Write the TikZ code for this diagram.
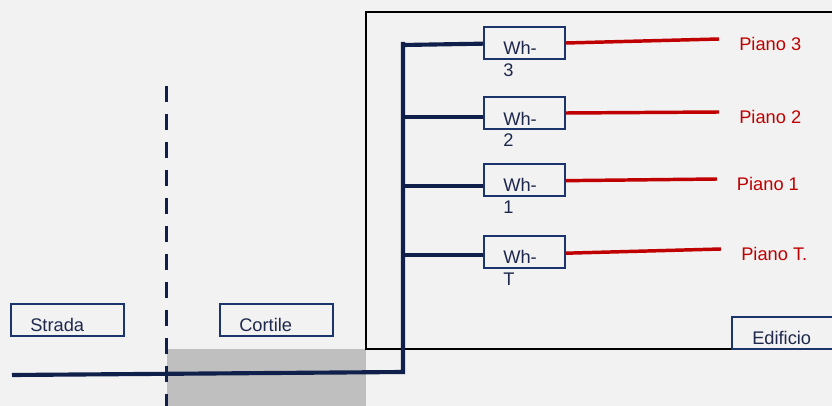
\documentclass[tikz,border=0pt]{standalone}
\usepackage{fontspec}
\setmainfont{Liberation Sans}
\definecolor{navy}{RGB}{17,32,74}
\definecolor{boxblue}{RGB}{28,52,108}
\definecolor{txtblue}{RGB}{30,40,76}
\definecolor{feedred}{RGB}{192,0,0}
\definecolor{yardgrey}{RGB}{191,191,191}
\definecolor{bggrey}{RGB}{242,242,242}

\begin{document}
\begin{tikzpicture}[x=0.75pt,y=0.75pt,yscale=-1,xscale=1,
  whbox/.style={draw=boxblue, line width=1.5pt, minimum width=60.75pt, minimum height=24pt, inner sep=0pt},
  areabox/.style={draw=boxblue, line width=1.5pt, minimum height=24pt, inner sep=0pt},
  txt/.style={anchor=base west, inner sep=0pt, font=\fontsize{13.7}{16.5}\selectfont},
  whtxt/.style={txt, text=txtblue, align=left},
  pianotxt/.style={txt, text=feedred},
  cable/.style={draw=navy, line width=3.1pt},
  feed/.style={draw=feedred, line width=2.6pt},
  building/.style={draw=black, line width=2pt},
  fence/.style={draw=navy, line width=2.6pt, dash pattern=on 12pt off 9pt}]
\useasboundingbox (0,0) rectangle (832,406);

%Background and courtyard
\fill[bggrey] (0,0) rectangle (832,406);
\fill[yardgrey] (167,349) rectangle (366,406);

%Building outline
\draw[building] (840,12) -- (366,12) -- (366,349) -- (840,349);

%Boundary street / courtyard
\draw[fence] (166.5,86) -- (166.5,406);

%Meter boxes
\node[whbox] (wh3) at (524.5,43) {};
\node[whbox] (wh2) at (524.5,113) {};
\node[whbox] (wh1) at (524.5,180) {};
\node[whbox] (whT) at (524.5,252) {};

\node[whtxt] at (503,77) {Wh-\\3};
\node[whtxt] at (503,147) {Wh-\\2};
\node[whtxt] at (503,214) {Wh-\\1};
\node[whtxt] at (503,285) {Wh-\\T};

%Supply line
\coordinate (street) at (12,375);
\coordinate (corner) at (403,372);
\coordinate (bustop) at (403,42);
\coordinate (bus3) at (403,45);
\coordinate (bus2) at (403,117);
\coordinate (bus1) at (403,186);
\coordinate (busT) at (403,255);

\draw[cable] (street) -- (corner) -- (bustop);
\draw[cable] (bus3) -- ([yshift=0.5pt]wh3.west);
\draw[cable] (bus2) -- (bus2 -| wh2.west);
\draw[cable] (bus1) -- (bus1 -| wh1.west);
\draw[cable] (busT) -- (busT -| whT.west);

%Floor lines
\coordinate (p3) at (719,39);
\coordinate (p2) at (719,112);
\coordinate (p1) at (717,179);
\coordinate (pT) at (721,249);

\draw[feed] (wh3.east) -- (p3);
\draw[feed] (wh2.east) -- (p2);
\draw[feed] ([yshift=0.5pt]wh1.east) -- (p1);
\draw[feed] ([yshift=0.9pt]whT.east) -- (pT);

\node[pianotxt] (piano3) at (739,50.7) {Piano 3};
\node[pianotxt] (piano2) at (739,124) {Piano 2};
\node[pianotxt] (piano1) at (736.7,190.7) {Piano 1};
\node[pianotxt] (pianoT) at (741,261) {Piano T.};

%Areas
\node[areabox, minimum width=84.75pt] (strada) at (67.5,320) {};
\node[areabox, minimum width=84.75pt] (cortile) at (276.5,320) {};
\node[areabox, minimum width=87pt] (edificio) at (790,333) {};

\node[txt, text=txtblue] at (30,331.7) {Strada};
\node[txt, text=txtblue] at (239,331.7) {Cortile};
\node[txt, text=txtblue] at (752,344) {Edificio};

\end{tikzpicture}
\end{document}
